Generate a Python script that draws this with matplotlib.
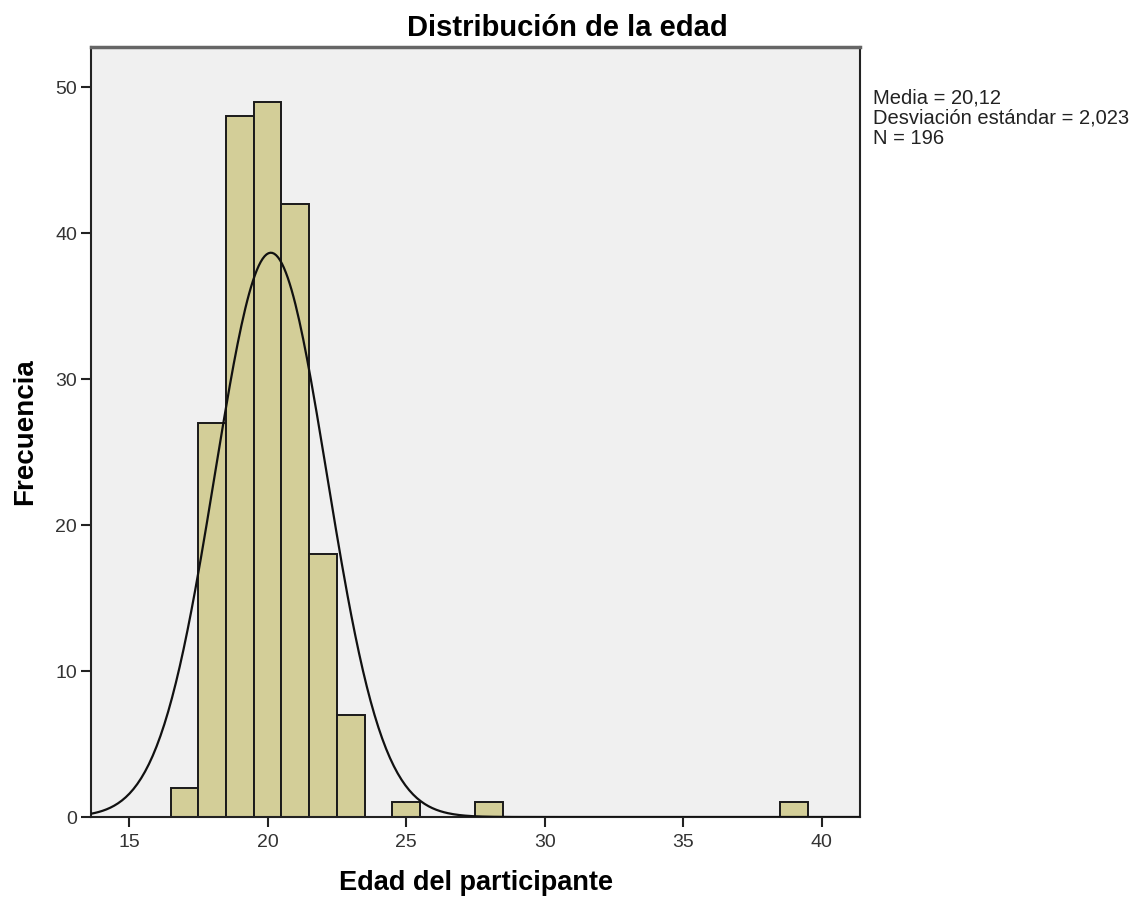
import numpy as np
import matplotlib
matplotlib.use('Agg')
import matplotlib.pyplot as plt

plt.rcParams['font.family'] = ['Liberation Sans', 'DejaVu Sans']

edades = [17, 18, 19, 20, 21, 22, 23, 25, 28, 39]
frecuencias = [2, 27, 48, 49, 42, 18, 7, 1, 1, 1]
media = 20.12
desv = 2.023
n = 196

fig = plt.figure(figsize=(11.35, 9.01), dpi=100)
ax = fig.add_axes([0.0802, 0.0932, 0.6775, 0.8546])
ax.set_facecolor('#F0F0F0')

ax.bar(edades, frecuencias, width=1.0, color='#D3CE98', edgecolor='#1a1a1a',
       linewidth=1.4, zorder=2)

# curva normal con la media y desviación estándar
x = np.linspace(13.63, 41.4, 400)
y = n * 1.0 / (desv * np.sqrt(2 * np.pi)) * np.exp(-0.5 * ((x - media) / desv) ** 2)
ax.plot(x, y, color='#111111', linewidth=1.6, zorder=3)

ax.set_xlim(13.63, 41.38)
ax.set_ylim(0, 52.74)
ax.set_xticks([15, 20, 25, 30, 35, 40])
ax.set_yticks([0, 10, 20, 30, 40, 50])
ax.tick_params(axis='both', direction='out', length=7, width=1.5, colors='#222222',
               labelsize=14, labelcolor='#333333')
ax.tick_params(axis='x', pad=5)
ax.tick_params(axis='y', pad=3)

for s in ['left', 'bottom', 'right']:
    ax.spines[s].set_color('#222222')
    ax.spines[s].set_linewidth(1.5)
ax.spines['top'].set_color('#666666')
ax.spines['top'].set_linewidth(2.5)

fig.text(0.5, 0.969, 'Distribución de la edad', fontsize=21, fontweight='bold',
         ha='center', va='center')
ax.set_xlabel('Edad del participante', fontsize=19.5, fontweight='bold', labelpad=14)
ax.set_ylabel('Frecuencia', fontsize=20, fontweight='bold', labelpad=12)

fig.text(0.769, 0.902,
         'Media = 20,12\nDesviación estándar = 2,023\nN = 196',
         fontsize=14.5, va='top', ha='left', color='#222222', linespacing=1.1)

fig.savefig('out.png', dpi=100)
